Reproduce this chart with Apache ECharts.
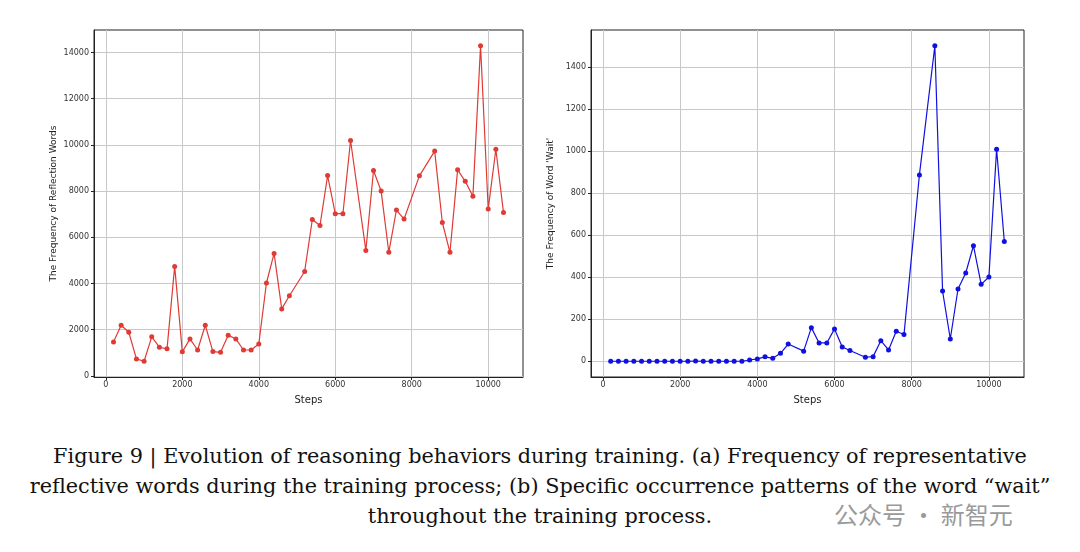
<!DOCTYPE html>
<html><head><meta charset="utf-8">
<script src="https://cdn.jsdelivr.net/npm/echarts@6/dist/echarts.min.js"></script>
<style>
body{margin:0;background:#fff;width:1080px;height:552px;overflow:hidden;position:relative}
#main{position:absolute;left:0;top:0;width:1080px;height:420px}
#cap{position:absolute;left:0;top:441px;width:1080px;text-align:center;font-family:"DejaVu Serif","Liberation Serif",serif;font-size:20.8px;line-height:30px;color:#111}
#wm{position:absolute;left:834px;top:496px;font-family:"Noto Sans CJK SC";font-size:24px;color:#9a9a9a}
</style></head><body>
<div id="main"></div>
<div id="cap">Figure 9 | Evolution of reasoning behaviors during training. (a) Frequency of representative<br>reflective words during the training process; (b) Specific occurrence patterns of the word “wait”<br>throughout the training process.</div>
<div id="wm">公众号 · 新智元</div>
<script>
var stepsA = [200,400,600,800,1000,1200,1400,1600,1800,2000,2200,2400,2600,2800,3000,3200,3400,3600,3800,4000,4200,4400,4600,4800,5200,5400,5600,5800,6000,6200,6400,6800,7000,7200,7400,7600,7800,8200,8600,8800,9000,9200,9400,9600,9800,10000,10200,10400];
var reflect = [1470,2190,1890,735,634,1690,1240,1170,4740,1040,1600,1120,2190,1050,1020,1760,1600,1120,1120,1380,4020,5300,2900,3470,4520,6770,6510,8670,7020,7020,10190,5430,8890,8000,5350,7180,6790,8660,9730,6640,5350,8920,8420,7780,14290,7220,9810,7070];
var stepsB = [200,400,600,800,1000,1200,1400,1600,1800,2000,2200,2400,2600,2800,3000,3200,3400,3600,3800,4000,4200,4400,4600,4800,5200,5400,5600,5800,6000,6200,6400,6800,7000,7200,7400,7600,7800,8200,8600,8800,9000,9200,9400,9600,9800,10000,10200,10400];
var wait = [0,0,0,0,0,0,0,0,0,0,0,1,0,0,0,0,0,0,6,11,21,14,38,82,48,160,87,87,154,68,51,19,22,98,54,143,127,887,1502,334,106,344,420,550,366,401,1009,570];
var xTicks = [0,2000,4000,6000,8000,10000];
var yTicksA = [0,2000,4000,6000,8000,10000,12000,14000];
var yTicksB = [0,200,400,600,800,1000,1200,1400];

function pairs(xs, ys){ return xs.map(function(x,i){ return [x, ys[i]]; }); }
var lab = {fontSize:8, color:'#333', fontFamily:'DejaVu Sans', formatter:function(v){ return String(v); }};
var sl = {show:true, lineStyle:{color:'#c8c8c8', width:1}};
function xAx(idx, min, max){
  return {type:'value', gridIndex:idx, min:min, max:max, name:'Steps', nameLocation:'middle', nameGap:18,
    nameTextStyle:{fontSize:10, color:'#222', fontFamily:'DejaVu Sans'},
    axisLine:{show:true, onZero:false, lineStyle:{color:'#222'}},
    axisTick:{show:true, customValues:xTicks, length:3, lineStyle:{color:'#222'}},
    axisLabel:Object.assign({customValues:xTicks, margin:4}, lab), splitLine:sl};
}
function yAx(idx, min, max, ticks, name){
  return {type:'value', gridIndex:idx, min:min, max:max, name:name, nameLocation:'middle', nameGap:36,
    nameTextStyle:{fontSize:9, color:'#222', fontFamily:'DejaVu Sans'},
    axisLine:{show:true, onZero:false, lineStyle:{color:'#222'}},
    axisTick:{show:true, customValues:ticks, length:3, lineStyle:{color:'#222'}},
    axisLabel:Object.assign({customValues:ticks, margin:5}, lab), splitLine:sl};
}
var chart = echarts.init(document.getElementById('main'));
chart.setOption({
  animation:false,
  grid:[
    {left:94, top:30, width:429, height:347, show:true, borderColor:'#222', borderWidth:1, backgroundColor:'transparent'},
    {left:591, top:30, width:433, height:347, show:true, borderColor:'#222', borderWidth:1, backgroundColor:'transparent'}
  ],
  xAxis:[xAx(0,-310,10910), xAx(1,-310,10910)],
  yAxis:[yAx(0,-49,14973,yTicksA,'The Frequency of Reflection Words'), yAx(1,-75,1577,yTicksB,"The Frequency of Word 'Wait'")],
  series:[
    {type:'line', xAxisIndex:0, yAxisIndex:0, data:pairs(stepsA, reflect), symbol:'circle', symbolSize:5,
      lineStyle:{color:'#e03a35', width:1.2}, itemStyle:{color:'#e03a35'}},
    {type:'line', xAxisIndex:1, yAxisIndex:1, data:pairs(stepsB, wait), symbol:'circle', symbolSize:5,
      lineStyle:{color:'#1010e0', width:1.2}, itemStyle:{color:'#1010e0'}}
  ]
});
</script>
</body></html>
